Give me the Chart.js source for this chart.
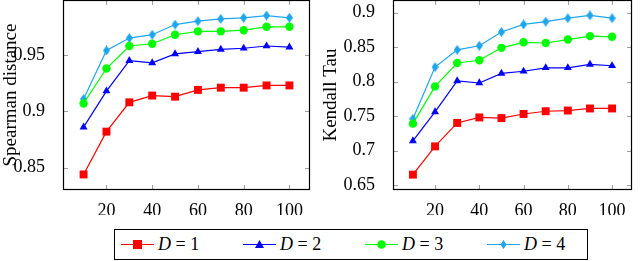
<!DOCTYPE html>
<html>
<head>
<meta charset="utf-8">
<script src="https://cdn.jsdelivr.net/npm/chart.js@4.4.0/dist/chart.umd.min.js"></script>
<style>
    body { margin: 0; background: #fff; }
    #wrap { position: relative; width: 640px; height: 261px; overflow: hidden; }
    canvas.plot { position: absolute; top: 0; }
    #legend {
        position: absolute; left: 114px; top: 229px; width: 472px; height: 29px;
        border: 1px solid #000; font-family: "Liberation Serif", serif; font-size: 18px;
    }
    .item { position: absolute; top: 0; height: 29px; display: flex; align-items: center; }
    .item svg { margin-right: 4px; }
</style>
</head>
<body>
<div id="wrap">
    <canvas id="spearmanChart" class="plot" width="320" height="215" style="left:0"></canvas>
    <canvas id="kendallChart" class="plot" width="320" height="215" style="left:320px"></canvas>
    <div id="legend"></div>
</div>
<script>
const xValues = [10, 20, 30, 40, 50, 60, 70, 80, 90, 100];
const xTicks = [20, 40, 60, 80, 100];

const spearmanD1 = [0.844, 0.882, 0.908, 0.914, 0.913, 0.919, 0.921, 0.921, 0.923, 0.923];
const spearmanD2 = [0.886, 0.918, 0.945, 0.943, 0.951, 0.953, 0.955, 0.956, 0.958, 0.957];
const spearmanD3 = [0.907, 0.938, 0.958, 0.960, 0.968, 0.971, 0.971, 0.972, 0.975, 0.975];
const spearmanD4 = [0.911, 0.954, 0.965, 0.968, 0.977, 0.980, 0.982, 0.983, 0.985, 0.983];
const spearmanTicks = [0.85, 0.9, 0.95];

const kendallD1 = [0.665, 0.706, 0.740, 0.748, 0.747, 0.753, 0.757, 0.758, 0.761, 0.761];
const kendallD2 = [0.714, 0.756, 0.801, 0.798, 0.812, 0.815, 0.820, 0.820, 0.825, 0.823];
const kendallD3 = [0.739, 0.793, 0.827, 0.831, 0.849, 0.857, 0.856, 0.861, 0.866, 0.865];
const kendallD4 = [0.746, 0.821, 0.846, 0.852, 0.872, 0.883, 0.887, 0.892, 0.896, 0.892];
const kendallTicks = [0.65, 0.7, 0.75, 0.8, 0.85, 0.9];

const seriesNames = ['1', '2', '3', '4'];
const seriesColors = ['#ff0000', '#0000ff', '#00ff00', '#1ea6ec'];

document.addEventListener("DOMContentLoaded", function () {
    const diamond = makeDiamond(seriesColors[3]);
    const markers = [
        { pointStyle: 'rect', pointRadius: 5.6 },
        { pointStyle: 'triangle', pointRadius: 4.6 },
        { pointStyle: 'circle', pointRadius: 4.2 },
        { pointStyle: diamond, pointRadius: 4 }
    ];

    initChart('spearmanChart', [spearmanD1, spearmanD2, spearmanD3, spearmanD4], markers,
        'Spearman distance', spearmanTicks, 0.8302, 0.9988, 63, 10);
    initChart('kendallChart', [kendallD1, kendallD2, kendallD3, kendallD4], markers,
        'Kendall Tau', kendallTicks, 0.6427, 0.9184, 73, 8);
    initLegend();
});

function makeDiamond(color) {
    const c = document.createElement('canvas');
    c.width = 7;
    c.height = 10;
    const g = c.getContext('2d');
    g.fillStyle = color;
    g.beginPath();
    g.moveTo(3.5, 0);
    g.lineTo(7, 5);
    g.lineTo(3.5, 10);
    g.lineTo(0, 5);
    g.closePath();
    g.fill();
    return c;
}

// frame + inward tick marks like pgfplots
const framePlugin = {
    id: 'frame',
    beforeDatasetsDraw(chart) {
        const ctx = chart.ctx;
        const a = chart.chartArea;
        ctx.save();
        ctx.strokeStyle = '#a0a0a0';
        ctx.lineWidth = 1;
        ctx.beginPath();
        chart.scales.x.ticks.forEach(function (t) {
            const px = Math.round(chart.scales.x.getPixelForValue(t.value)) + 0.5;
            ctx.moveTo(px, a.bottom); ctx.lineTo(px, a.bottom - 5);
            ctx.moveTo(px, a.top); ctx.lineTo(px, a.top + 5);
        });
        chart.scales.y.ticks.forEach(function (t) {
            const py = Math.round(chart.scales.y.getPixelForValue(t.value)) + 0.5;
            ctx.moveTo(a.left, py); ctx.lineTo(a.left + 5, py);
            ctx.moveTo(a.right, py); ctx.lineTo(a.right - 5, py);
        });
        ctx.stroke();
        ctx.restore();
    },
    afterDraw(chart) {
        const ctx = chart.ctx;
        const a = chart.chartArea;
        ctx.save();
        ctx.strokeStyle = '#000';
        ctx.lineWidth = 1.2;
        ctx.strokeRect(Math.round(a.left) + 0.5, Math.round(a.top) + 0.5,
            Math.round(a.right - a.left) - 1, Math.round(a.bottom - a.top) - 1);
        ctx.restore();
    }
};

function initChart(id, series, markers, title, yTicks, yMin, yMax, yWidth, padRight) {
    const datasets = series.map(function (vals, i) {
        return {
            label: 'D = ' + seriesNames[i],
            data: vals.map(function (v, j) { return { x: xValues[j], y: v }; }),
            borderColor: seriesColors[i],
            backgroundColor: seriesColors[i],
            borderWidth: 1.2,
            pointStyle: markers[i].pointStyle,
            pointRadius: markers[i].pointRadius,
            pointBorderWidth: 0,
            fill: false,
            tension: 0
        };
    });

    const font = { family: '"Liberation Serif", serif', size: 18 };

    new Chart(document.getElementById(id).getContext('2d'), {
        type: 'line',
        data: { datasets: datasets },
        plugins: [framePlugin],
        options: {
            responsive: false,
            animation: false,
            layout: { autoPadding: false, padding: { top: 0, right: padRight, left: 0, bottom: 0 } },
            plugins: { legend: { display: false }, tooltip: { enabled: false } },
            scales: {
                x: {
                    type: 'linear',
                    min: 1,
                    max: 109,
                    grid: { display: false },
                    border: { display: false },
                    ticks: { font: font, color: '#000', padding: 2, maxRotation: 0 },
                    afterBuildTicks: function (scale) {
                        scale.ticks = xTicks.map(function (v) { return { value: v }; });
                    },
                    afterFit: function (scale) {
                        scale.height = 25;
                        scale.paddingLeft = 0;
                        scale.paddingRight = 0;
                    }
                },
                y: {
                    min: yMin,
                    max: yMax,
                    grid: { display: false },
                    border: { display: false },
                    title: { display: true, text: title, font: { family: '"Liberation Serif", serif', size: 19 }, color: '#000', padding: 0 },
                    ticks: {
                        font: font, color: '#000', padding: 10,
                        callback: function (v) { return String(v); }
                    },
                    afterBuildTicks: function (scale) {
                        scale.ticks = yTicks.map(function (v) { return { value: v }; });
                    },
                    afterFit: function (scale) {
                        scale.width = yWidth;
                        scale.paddingTop = 0;
                        scale.paddingBottom = 0;
                    }
                }
            }
        }
    });
}

function initLegend() {
    const legend = document.getElementById('legend');
    const lefts = [6, 128, 250, 372];
    const shapes = [
        '<rect x="12" y="5" width="9" height="9"/>',
        '<polygon points="16.5,5 21,13 12,13"/>',
        '<circle cx="16.5" cy="9.5" r="4.3"/>',
        '<polygon points="16.5,5 19.5,9.5 16.5,14 13.5,9.5"/>'
    ];
    seriesNames.forEach(function (name, i) {
        const item = document.createElement('div');
        item.className = 'item';
        item.style.left = lefts[i] + 'px';
        item.innerHTML =
            '<svg width="33" height="19" fill="' + seriesColors[i] + '">' +
            '<line x1="0" y1="9.5" x2="33" y2="9.5" stroke="' + seriesColors[i] + '" stroke-width="1.2"/>' +
            shapes[i] + '</svg>' +
            '<span><i>D</i> = ' + name + '</span>';
        legend.appendChild(item);
    });
}
</script>
</body>
</html>
